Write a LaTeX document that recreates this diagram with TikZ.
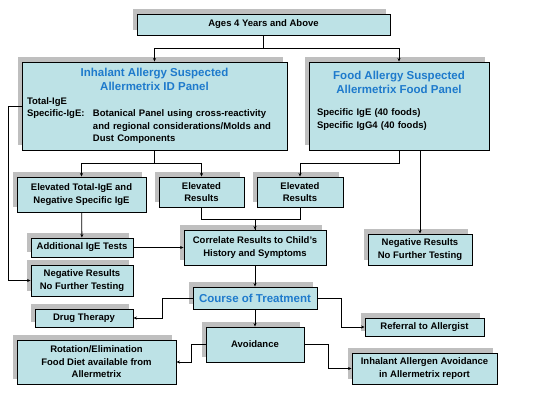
\documentclass[tikz,border=0pt]{standalone}
\usepackage{fontspec}
\setmainfont{Liberation Sans}
\usepackage{tikz}
\usetikzlibrary{positioning,arrows.meta,shadows}
\definecolor{boxFill}{RGB}{189,226,230}
\definecolor{shadowGray}{RGB}{191,191,191}
\definecolor{titleBlue}{RGB}{30,122,204}
\newcommand{\titleFont}{\color{titleBlue}\fontsize{11.5}{14}\selectfont}

\begin{document}
\begin{tikzpicture}
      [x=1pt, y=-1pt, font=\bfseries\fontsize{9.5}{12.5}\selectfont,
      % STYLES
      % The box style is used for every step of the chart
      box/.style={rectangle, draw, line width=0.9pt, fill=boxFill, inner sep=2pt, align=center,
        general shadow={fill=shadowGray, shadow xshift=-4.5pt, shadow yshift=5pt}},
      % The panel style is used for the two test panels
      panel/.style={box, align=left, minimum height=88pt},
      % The link style is used for the arrows between the boxes
      link/.style={line width=0.8pt, -{Stealth[length=3.5pt,width=3pt]}}]

      \useasboundingbox (0,0) rectangle (540,405);

      % Draw boxes
      \node [box, minimum width=253pt, minimum height=21pt] (ageBox) at (263.5,24.5) {Ages 4 Years and Above};
      \node [panel, inner xsep=5pt, text width=255pt] (inhalantPanel) at (154.5,106) {
        {\centering\titleFont Inhalant Allergy Suspected\\Allermetrix ID Panel\par}
        \vspace{1pt}
        Total-IgE\\
        \makebox[66pt][l]{Specific-IgE:}\parbox[t]{189pt}{Botanical Panel using cross-reactivity\\
          and regional considerations/Molds and\\Dust Components}
      };
      \node [panel, inner xsep=8pt, text width=164pt] (foodPanel) at (399,106) {
        {\centering\titleFont Food Allergy Suspected\\Allermetrix Food Panel\par}
        \vspace{10pt}
        Specific IgE (40 foods)\\
        Specific IgG4 (40 foods)\par
        \rule{0pt}{10pt}
      };
      \node [box, minimum width=129pt, minimum height=35pt] (elevTotal) at (81.5,194.5) {Elevated Total-IgE and\\Negative Specific IgE};
      \node [box, minimum width=85pt, minimum height=30pt] (elevInhalant) at (201.5,192) {Elevated\\Results};
      \node [box, minimum width=86pt, minimum height=30pt] (elevFood) at (300,192) {Elevated\\Results};
      \node [box, minimum width=102pt, minimum height=19pt] (addTests) at (82,247.5) {Additional IgE Tests};
      \node [box, minimum width=142pt, minimum height=35pt] (correlate) at (255,247.5) {Correlate Results to Child's\\History and Symptoms};
      \node [box, minimum width=102pt, minimum height=31pt] (negInhalant) at (82,280.5) {Negative Results\\No Further Testing};
      \node [box, minimum width=104pt, minimum height=31pt] (negFood) at (420,249.5) {Negative Results\\No Further Testing};
      \node [box, minimum width=124pt, minimum height=22pt, text=titleBlue,
        font=\bfseries\fontsize{11.5}{14}\selectfont] (treatment) at (255,298) {Course of Treatment};
      \node [box, minimum width=98pt, minimum height=18pt] (drugTherapy) at (84,318) {Drug Therapy};
      \node [box, minimum width=119pt, minimum height=18pt] (referral) at (424.5,327) {Referral to Allergist};
      \node [box, minimum width=98pt, minimum height=35pt] (avoidance) at (255,344.5) {Avoidance};
      \node [box, minimum width=159pt, minimum height=44pt] (rotationDiet) at (96.5,362) {Rotation/Elimination\\Food Diet available from\\Allermetrix};
      \node [box, minimum width=145pt, minimum height=31pt] (inhalantAvoid) at (424.5,368.5) {Inhalant Allergen Avoidance\\in Allermetrix report};

      %%%%%%%%%%%%%%%%
      % Draw the links between boxes
      \draw[link] (ageBox.south) -- ++(0,13) -| (inhalantPanel.north);
      \draw[link] (ageBox.south) -- ++(0,13) -| (foodPanel.north);
      \draw[link] (inhalantPanel.west) -- ++(-13,0) |- (negInhalant.west);
      \draw[link] (inhalantPanel.south) -- ++(0,13) -| (elevTotal.north);
      \draw[link] (inhalantPanel.south) -- ++(0,13) -| (elevInhalant.north);
      \draw[link] (foodPanel.south) -- ++(0,13) -| (elevFood.north);
      \draw[link] (foodPanel.south -| negFood.north) -- (negFood.north);
      \draw (elevFood.south) -- ++(0,12) -| (correlate.north);
      \draw[link] (elevInhalant.south) -- ++(0,12) -| (correlate.north);
      \draw[link] (treatment.west) -- ++(-30,0) |- (drugTherapy.east);
      \draw[link] (treatment.east) -- ++(24,0) |- (referral.west);
      \draw[link] (avoidance.west) -- ++(-14,0) |- (rotationDiet.east);
      \draw[link] (avoidance.east) -- ++(24,0) |- (inhalantAvoid.west);
      \path[link]
        (elevTotal) edge (addTests)
        (addTests) edge (correlate)
        (correlate) edge (treatment)
        (treatment) edge (avoidance);

\end{tikzpicture}
\end{document}
